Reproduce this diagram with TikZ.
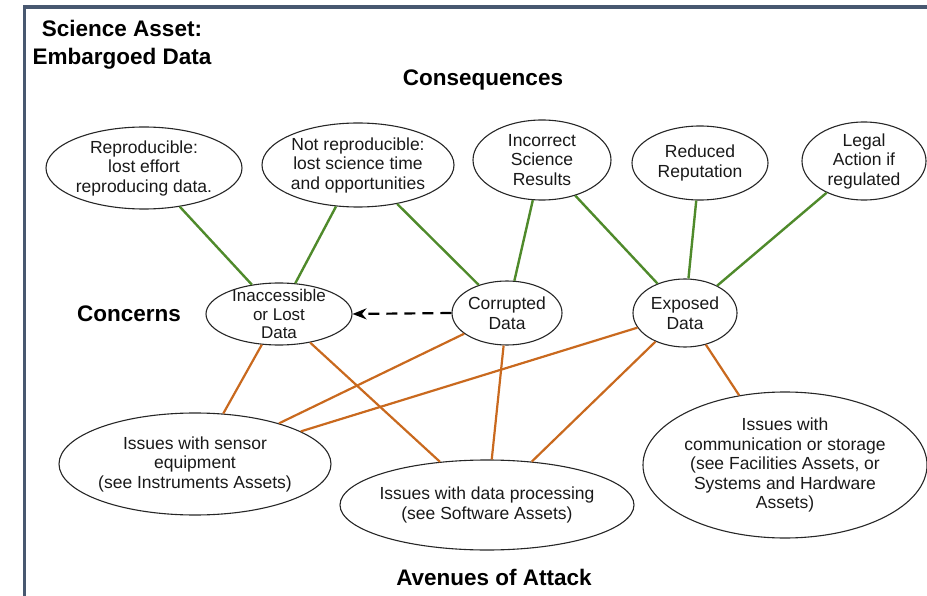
\documentclass[tikz,border=0pt]{standalone}
\usepackage{fontspec}
\setmainfont{Liberation Sans}
\usetikzlibrary{shapes.geometric,arrows.meta}
\definecolor{frameblue}{HTML}{485870}
\definecolor{consgreen}{HTML}{4F8A2B}
\definecolor{attorange}{HTML}{C9691E}
\begin{document}
\begin{tikzpicture}[x=1pt,y=-1pt,
  ell/.style={ellipse,draw=black!85,line width=1.1pt,inner sep=0pt},
  txt/.style={align=center,font=\fontsize{17.5}{19.5}\selectfont,text=black!90},
  txtsm/.style={align=center,font=\fontsize{17}{18.5}\selectfont,text=black!90},
  head/.style={align=center,font=\fontsize{22.5}{28}\selectfont\bfseries,text=black},
  gline/.style={draw=consgreen,line width=2.4pt},
  oline/.style={draw=attorange,line width=2.2pt},
  darrow/.style={draw=black,line width=2.2pt,dash pattern=on 11pt off 7pt,-{Stealth[length=14pt,width=11pt]}}
]
\useasboundingbox (0,0) rectangle (927,596);
\draw[frameblue,line width=3.5pt] (24.5,596) -- (24.5,7) -- (927,7);

% headings
\node[head] (title) at (122,45) {Science Asset:\\Embargoed Data};
\node[head] (cons) at (483,80) {Consequences};
\node[head] (conc) at (129,314) {Concerns};
\node[head] (aven) at (494,577) {Avenues of Attack};

% consequences
\node[ell,minimum width=196pt,minimum height=82pt] (repro) at (144,168) {};
\node[txt] at (repro) {Reproducible:\\lost effort\\reproducing data.};
\node[ell,minimum width=192pt,minimum height=84pt] (notrepro) at (358,165) {};
\node[txt] at (notrepro) {Not reproducible:\\lost science time\\and opportunities};
\node[ell,minimum width=138pt,minimum height=80pt] (incorrect) at (542,160) {};
\node[txt] at (incorrect) {Incorrect\\Science\\Results};
\node[ell,minimum width=136pt,minimum height=74pt] (reduced) at (700,163) {};
\node[txt] at (reduced) {Reduced\\Reputation};
\node[ell,minimum width=124pt,minimum height=78pt] (legal) at (864,161) {};
\node[txt] at (legal) {Legal\\Action if\\regulated};

% concerns
\node[ell,minimum width=146pt,minimum height=62pt] (inacc) at (279,314) {};
\node[txtsm] at (inacc) {Inaccessible\\or Lost\\Data};
\node[ell,minimum width=110pt,minimum height=64pt] (corr) at (507,313) {};
\node[txt] at (corr) {Corrupted\\Data};
\node[ell,minimum width=104pt,minimum height=68pt] (exposed) at (685,313) {};
\node[txt] at (exposed) {Exposed\\Data};

% avenues
\node[ell,minimum width=272pt,minimum height=102pt] (sensor) at (195,464) {};
\node[txt] at (sensor) {Issues with sensor\\equipment\\(see Instruments Assets)};
\node[ell,minimum width=294pt,minimum height=90pt] (proc) at (487,505) {};
\node[txt] at (proc) {Issues with data processing\\(see Software Assets)};
\node[ell,minimum width=284pt,minimum height=146pt] (comm) at (785,465) {};
\node[txt] at (comm) {Issues with\\communication or storage\\(see Facilities Assets, or\\Systems and Hardware\\Assets)};

% green connectors
\draw[gline] (repro) -- (inacc);
\draw[gline] (notrepro) -- (inacc);
\draw[gline] (notrepro) -- (corr);
\draw[gline] (incorrect) -- (corr);
\draw[gline] (incorrect) -- (exposed);
\draw[gline] (reduced) -- (exposed);
\draw[gline] (legal) -- (exposed);

% orange connectors
\draw[oline] (inacc) -- (sensor);
\draw[oline] (inacc) -- (proc);
\draw[oline] (corr) -- (sensor);
\draw[oline] (corr) -- (proc);
\draw[oline] (exposed) -- (sensor);
\draw[oline] (exposed) -- (proc);
\draw[oline] (exposed) -- (comm);

% dashed arrow
\draw[darrow] (corr.west) -- (inacc.east);
\end{tikzpicture}
\end{document}
